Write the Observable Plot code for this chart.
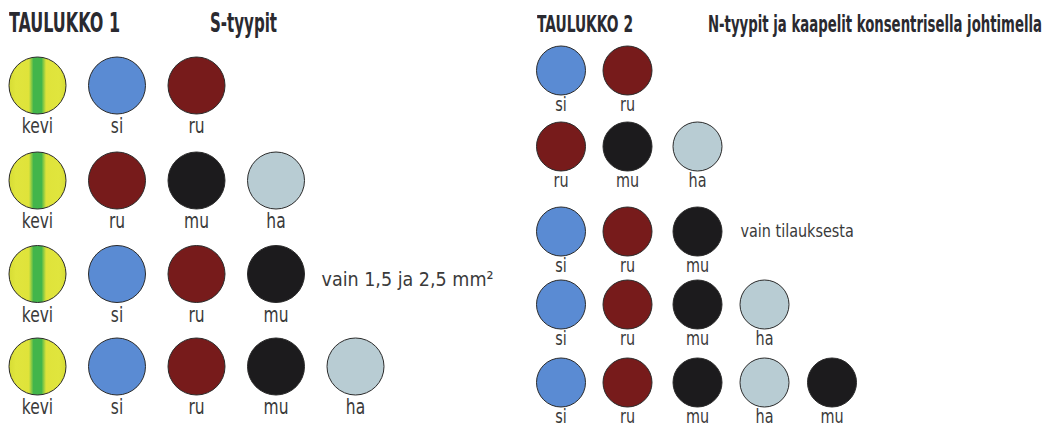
<!DOCTYPE html>
<html>
<head>
<meta charset="utf-8">
<script src="https://cdn.jsdelivr.net/npm/d3@7"></script>
<script src="https://cdn.jsdelivr.net/npm/@observablehq/plot@0.6"></script>
<style>
  body { margin: 0; background: #fff; }
  #wrap { position: relative; width: 1046px; height: 427px; overflow: hidden;
          font-family: "Liberation Sans Narrow", "DejaVu Sans Condensed", "Liberation Sans", sans-serif; }
  .panel { position: absolute; top: 0; }
  .hdr { position: absolute; font-weight: bold; color: #2a2a30; white-space: nowrap;
         line-height: 24px; transform-origin: 0 0; }
</style>
</head>
<body>
<div id="wrap"></div>
<script>
// ---- data ----
const wireNames  = ["kevi", "si", "ru", "mu", "ha"];
const wireFills  = ["url(#keviGrad)", "#5a8bd3", "#771b1b", "#1c1b1d", "#b8ccd3"];

const table1Title = ["TAULUKKO 1", "S-tyypit"];
const table2Title = ["TAULUKKO 2", "N-tyypit ja kaapelit konsentrisella johtimella"];

const table1Rows = [
  ["kevi", "si", "ru"],
  ["kevi", "ru", "mu", "ha"],
  ["kevi", "si", "ru", "mu"],
  ["kevi", "si", "ru", "mu", "ha"]
];
const table2Rows = [
  ["si", "ru"],
  ["ru", "mu", "ha"],
  ["si", "ru", "mu"],
  ["si", "ru", "mu", "ha"],
  ["si", "ru", "mu", "ha", "mu"]
];
const table1Notes = [{row: 2, col: 4, text: "vain 1,5 ja 2,5 mm²"}];
const table2Notes = [{row: 2, col: 3, text: "vain tilauksesta"}];

// ---- helpers ----
const fillOf = new Map(wireNames.map((n, i) => [n, wireFills[i]]));
const cells = rows => rows.flatMap((r, i) => r.map((name, j) => ({row: i, col: j, name})));

function gradientDefs() {
  const ns = "http://www.w3.org/2000/svg";
  const defs = document.createElementNS(ns, "defs");
  const g = document.createElementNS(ns, "linearGradient");
  g.setAttribute("id", "keviGrad");
  g.setAttribute("x1", "0"); g.setAttribute("x2", "1");
  g.setAttribute("y1", "0"); g.setAttribute("y2", "0");
  [[0, "#d6dc34"], [0.12, "#e0e53d"], [0.35, "#dfe33a"], [0.43, "#42b54b"],
   [0.57, "#42b54b"], [0.65, "#dfe33a"], [0.88, "#e0e53d"], [1, "#d6dc34"]]
    .forEach(([o, c]) => {
      const s = document.createElementNS(ns, "stop");
      s.setAttribute("offset", o); s.setAttribute("stop-color", c);
      g.appendChild(s);
    });
  defs.appendChild(g);
  return defs;
}

const fontFamily = '"Liberation Sans Narrow", "DejaVu Sans Condensed", "Liberation Sans", sans-serif';

// narrow the glyphs of a text mark group around each text's own anchor
function squeeze(group, sx) {
  if (!group || sx === 1) return;
  group.querySelectorAll("text").forEach(t => {
    let tr = t.getAttribute("transform");
    if (!tr) {
      tr = `translate(${t.getAttribute("x") || 0},${t.getAttribute("y") || 0})`;
      t.removeAttribute("x"); t.removeAttribute("y");
    }
    t.setAttribute("transform", `${tr} scale(${sx},1)`);
  });
}

function table({rows, notes, width, xRange, yRange, r, labelDy, labelSize, labelScale,
                noteDx, noteDy, noteSize, noteScale}) {
  const data = cells(rows);
  const svg = Plot.plot({
    width, height: 427, margin: 0,
    style: {fontFamily, background: "transparent"},
    x: {type: "linear", domain: [0, 1, 2, 3, 4], range: xRange, axis: null},
    y: {type: "linear", domain: d3.range(rows.length), range: yRange, axis: null},
    color: {type: "identity"},
    marks: [
      gradientDefs,
      Plot.dot(data, {x: "col", y: "row", r, fill: d => fillOf.get(d.name),
                      stroke: "#2b2b2b", strokeWidth: 1}),
      Plot.text(data, {x: "col", y: "row", text: "name", dy: labelDy,
                       fontSize: labelSize, fill: "#3a3a3a"}),
      Plot.text(notes, {x: "col", y: "row", text: "text", dx: noteDx, dy: noteDy,
                        textAnchor: "start", fontSize: noteSize, fill: "#3a3a3a"})
    ]
  });
  const groups = svg.querySelectorAll('g[aria-label="text"]');
  squeeze(groups[0], labelScale);
  squeeze(groups[1], noteScale);
  return svg;
}

const wrap = document.getElementById("wrap");

const p1 = table({rows: table1Rows, notes: table1Notes, width: 520,
  xRange: [37, 116.5, 196, 275.5, 355], yRange: [85, 180, 273.5, 366], r: 28.5,
  labelDy: 41, labelSize: 21, labelScale: 0.82,
  noteDx: -34, noteDy: 6, noteSize: 19.5, noteScale: 1});
p1.classList.add("panel"); p1.style.left = "0px";
wrap.appendChild(p1);

const p2 = table({rows: table2Rows, notes: table2Notes, width: 526,
  xRange: [40.5, 107, 177, 244, 311.5], yRange: [70, 146, 231, 304, 382], r: 24.5,
  labelDy: 34, labelSize: 19.5, labelScale: 0.82,
  noteDx: -24, noteDy: 0, noteSize: 18, noteScale: 0.89});
p2.classList.add("panel"); p2.style.left = "520px";
wrap.appendChild(p2);

// headers: text, left, top, font size, target width
const hdrs = [
  [table1Title[0], 9, 11, 26, 111],
  [table1Title[1], 210, 11, 26, 67],
  [table2Title[0], 537, 12, 23, 96],
  [table2Title[1], 708, 12, 23, 334]
];
for (const [t, left, top, size, w] of hdrs) {
  const s = document.createElement("div");
  s.className = "hdr";
  s.textContent = t;
  s.style.left = left + "px";
  s.style.top = top + "px";
  s.style.fontSize = size + "px";
  wrap.appendChild(s);
  const actual = s.getBoundingClientRect().width;
  s.style.transform = `scaleX(${w / actual})`;
}
</script>
</body>
</html>
